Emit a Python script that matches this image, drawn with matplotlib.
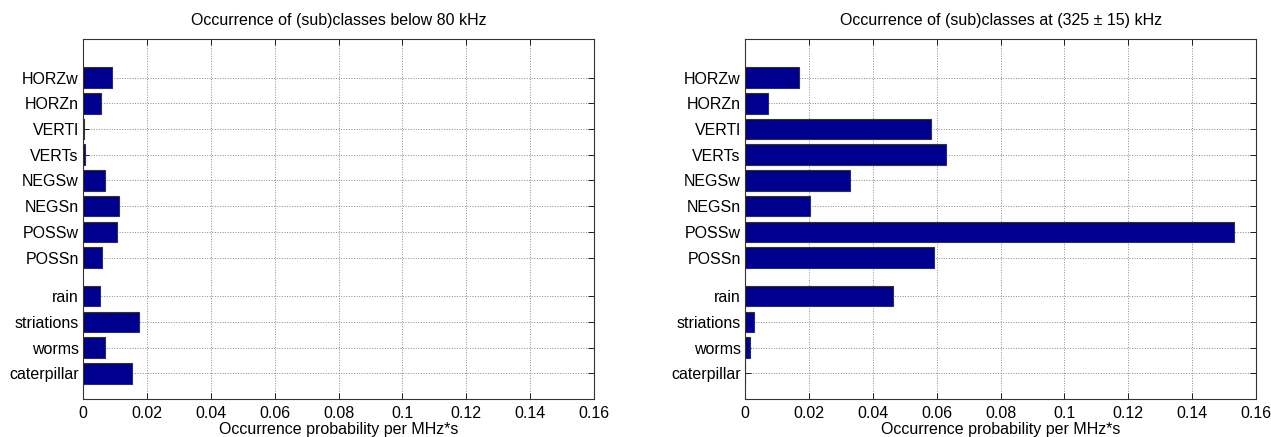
import matplotlib
matplotlib.use("Agg")
import matplotlib.pyplot as plt

categories = ["caterpillar", "worms", "striations", "rain",
              "POSSn", "POSSw", "NEGSn", "NEGSw", "VERTs", "VERTl", "HORZn", "HORZw"]
positions = [1, 2, 3, 4, 5.5, 6.5, 7.5, 8.5, 9.5, 10.5, 11.5, 12.5]
below80 = [0.0152, 0.0070, 0.0174, 0.0054, 0.0058, 0.0105, 0.0112, 0.0070, 0.0006, 0.0003, 0.0056, 0.0090]
at325 = [0.0, 0.0015, 0.0028, 0.0464, 0.0593, 0.1531, 0.0203, 0.0328, 0.0628, 0.0582, 0.0072, 0.0170]
xticks = [0, 0.02, 0.04, 0.06, 0.08, 0.1, 0.12, 0.14, 0.16]
xticklabels = ["0", "0.02", "0.04", "0.06", "0.08", "0.1", "0.12", "0.14", "0.16"]
titles = ["Occurrence of (sub)classes below 80 kHz",
          "Occurrence of (sub)classes at (325 \u00b1 15) kHz"]
xlabel = "Occurrence probability per MHz*s"

plt.rcParams['font.family'] = ['Liberation Sans', 'DejaVu Sans']
FS = 11.5

W, H = 1271, 437
fig = plt.figure(figsize=(W / 100, H / 100), dpi=100)
rects = [[83 / W, 38 / H, 511 / W, 360 / H], [745 / W, 38 / H, 511 / W, 360 / H]]

for rect, vals, title in zip(rects, [below80, at325], titles):
    ax = fig.add_axes(rect)
    ax.barh(positions, vals, height=0.8, color="#00008F", edgecolor="#333333", linewidth=0.8, zorder=3)
    ax.set_xlim(0, 0.16)
    ax.set_ylim(0, 14)
    ax.set_xticks(xticks)
    ax.set_xticklabels(xticklabels)
    ax.set_yticks(positions)
    ax.set_yticklabels(categories)
    ax.grid(True, linestyle=":", color="#888888", linewidth=0.7, zorder=0)
    ax.tick_params(direction="in", top=True, right=True, length=4, width=0.6, labelsize=FS, pad=3)
    ax.tick_params(axis="x", pad=5)
    for s in ax.spines.values():
        s.set_linewidth(0.8)
        s.set_color("#333333")
    ax.set_title(title, fontsize=FS, pad=10)
    ax.set_xlabel(xlabel, fontsize=FS, labelpad=1)

fig.savefig("out.png", dpi=100)
